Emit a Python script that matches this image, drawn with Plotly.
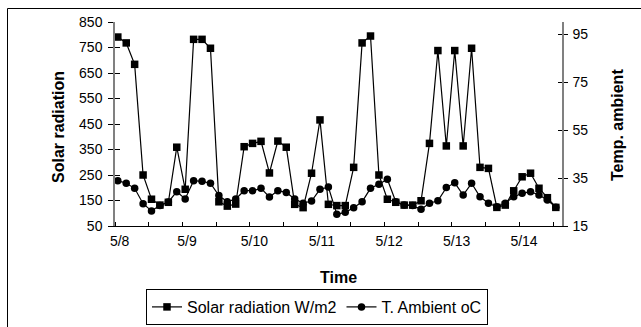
import plotly.graph_objects as go
import pandas as pd

# ---- data (3-hourly samples) ----
times = pd.date_range("2008-05-08 01:00", periods=53, freq="3h")
solar = [791, 768, 684, 250, 155, 132, 143, 359, 194, 782, 782, 747, 145,
         128, 136, 361, 374, 382, 258, 383, 359, 135, 122, 257, 466, 135,
         130, 130, 280, 768, 795, 250, 155, 143, 132, 132, 149, 374, 738,
         364, 738, 364, 747, 280, 276, 123, 132, 188, 243, 257, 198, 161, 123]
temp = [33.9, 32.8, 30.7, 24.3, 21.3, 23.5, 25.0, 29.3, 26.3, 33.9, 33.6, 32.8, 27.7,
        25.1, 26.3, 29.7, 29.7, 30.7, 27.1, 29.7, 29.0, 26.3, 24.5, 25.4, 30.3, 31.2,
        19.9, 20.7, 22.6, 25.1, 30.7, 32.4, 34.5, 25.1, 23.8, 23.5, 22.0, 24.5, 25.5,
        31.0, 33.0, 27.9, 32.8, 27.2, 24.5, 23.0, 24.5, 27.2, 28.6, 29.3, 27.9, 25.8, 22.8]
day_labels = ["5/8", "5/9", "5/10", "5/11", "5/12", "5/13", "5/14"]
solar_ticks = [50, 150, 250, 350, 450, 550, 650, 750, 850]
temp_ticks = [15, 35, 55, 75, 95]

# ---- layout geometry ----
W, H = 641, 327
L, R, T, B = 115, 79, 22, 101
pw, ph = W - L - R, H - T - B


def fx(px):
    return (px - L) / pw


def fy(py):
    return (H - B - py) / ph


FONT = "Liberation Sans, Arial, sans-serif"

day_starts = pd.date_range("2008-05-08", periods=7, freq="D")
label_pos = day_starts + pd.Timedelta(minutes=100)
half_days = pd.date_range("2008-05-08", periods=14, freq="12h")

fig = go.Figure()
fig.add_trace(go.Scatter(
    x=times, y=solar, name="Solar radiation W/m2", mode="lines+markers",
    line=dict(color="black", width=1.2),
    marker=dict(symbol="square", size=7.5, color="black"), yaxis="y"))
fig.add_trace(go.Scatter(
    x=times, y=temp, name="T. Ambient oC", mode="lines+markers",
    line=dict(color="black", width=1.2),
    marker=dict(symbol="circle", size=7.5, color="black"), yaxis="y2"))

axis_common = dict(showgrid=False, zeroline=False, automargin=False)

fig.update_layout(
    width=W, height=H,
    margin=dict(l=L, r=R, t=T, b=B, pad=0, autoexpand=False),
    paper_bgcolor="white", plot_bgcolor="white",
    font=dict(family=FONT, color="black"),
    showlegend=True,
    xaxis=dict(
        type="date",
        range=[pd.Timestamp("2008-05-08 00:00"), pd.Timestamp("2008-05-14 15:12")],
        showline=True, linecolor="black", linewidth=1,
        tickmode="array", tickvals=list(label_pos), ticktext=day_labels,
        ticks="", tickfont=dict(size=14, family=FONT),
        ticklabelstandoff=2,
        minor=dict(tickmode="array", tickvals=list(half_days), ticks="inside",
                   ticklen=4, tickcolor="black", tickwidth=1),
        **axis_common),
    yaxis=dict(
        range=[50, 850], tickmode="array", tickvals=solar_ticks,
        showline=True, linecolor="#808080", linewidth=1.5,
        ticks="outside", ticklen=5, tickcolor="black", tickwidth=1,
        tickfont=dict(size=14, family=FONT), ticklabelstandoff=3,
        **axis_common),
    yaxis2=dict(
        range=[15, 100], tickmode="array", tickvals=temp_ticks,
        overlaying="y", side="right", anchor="x",
        showline=True, linecolor="#808080", linewidth=1.5,
        ticks="outside", ticklen=4, tickcolor="black", tickwidth=1,
        tickfont=dict(size=14, family=FONT), ticklabelstandoff=2,
        **axis_common),
    yaxis3=dict(
        range=[50, 850], tickmode="array", tickvals=solar_ticks,
        overlaying="y", side="left", anchor="x",
        showline=False, showticklabels=False,
        ticks="inside", ticklen=5, tickcolor="black", tickwidth=1,
        **axis_common),
    yaxis4=dict(
        range=[15, 100], tickmode="array", tickvals=temp_ticks,
        overlaying="y", side="right", anchor="x",
        showline=False, showticklabels=False,
        ticks="inside", ticklen=4, tickcolor="black", tickwidth=1,
        **axis_common),
    legend=dict(
        orientation="h",
        xref="container", yref="container",
        x=146 / W, xanchor="left", y=1 - 289 / H, yanchor="top",
        bordercolor="black", borderwidth=1, bgcolor="white",
        font=dict(size=16, family=FONT), itemwidth=30, tracegroupgap=0),
    annotations=[
        dict(text="<b>Solar radiation</b>", textangle=-90, x=fx(59), y=fy(127),
             xref="paper", yref="paper", showarrow=False,
             font=dict(size=16, family=FONT), xanchor="center", yanchor="middle"),
        dict(text="<b>Temp. ambient</b>", textangle=-90, x=fx(617), y=fy(125),
             xref="paper", yref="paper", showarrow=False,
             font=dict(size=16, family=FONT), xanchor="center", yanchor="middle"),
        dict(text="<b>Time</b>", x=fx(338), y=fy(277),
             xref="paper", yref="paper", showarrow=False,
             font=dict(size=16, family=FONT), xanchor="center", yanchor="middle"),
    ],
    shapes=[
        dict(type="line", xref="paper", yref="paper",
             x0=fx(7.5), x1=fx(7.5), y0=fy(8.5), y1=fy(400),
             line=dict(color="black", width=1)),
        dict(type="line", xref="paper", yref="paper",
             x0=fx(7.5), x1=fx(700), y0=fy(8.5), y1=fy(8.5),
             line=dict(color="black", width=1)),
    ],
)

# dummy invisible traces so the tick-overlay axes are drawn
fig.add_trace(go.Scatter(x=[times[0]], y=[None], yaxis="y3", showlegend=False,
                         hoverinfo="skip"))
fig.add_trace(go.Scatter(x=[times[0]], y=[None], yaxis="y4", showlegend=False,
                         hoverinfo="skip"))

fig.write_html("out.html", config={"displayModeBar": False})
